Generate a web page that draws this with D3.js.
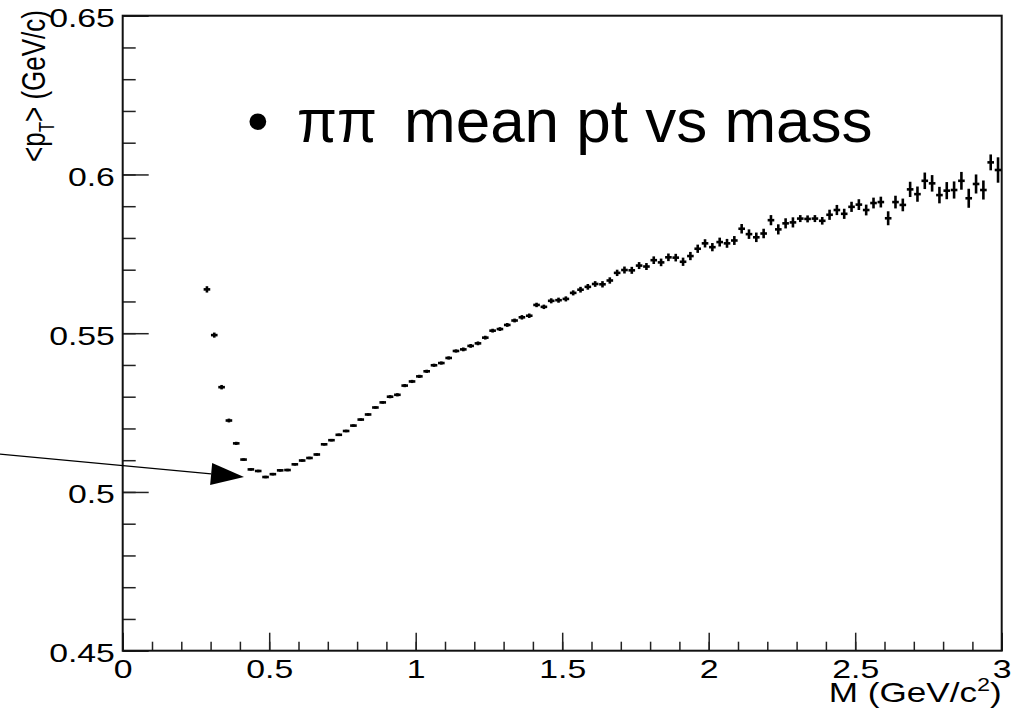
<!DOCTYPE html>
<html>
<head>
<meta charset="utf-8">
<title>pipi mean pt vs mass</title>
<script src="https://cdn.jsdelivr.net/npm/d3@7"></script>
<style>
  body { margin: 0; background: #fff; }
  text { font-family: "Liberation Sans", Arial, sans-serif; fill: #000; }
</style>
</head>
<body>
<div id="chart"></div>
<script>
// bin centres (GeV/c^2), bin width 0.025
var binWidth = 0.025;
var mass = d3.range(109).map(function(i) { return 0.2875 + i * binWidth; });

// mean pT per bin (GeV/c)
var meanPt = [
  0.5638, 0.5494, 0.5330, 0.5225, 0.5153, 0.5102, 0.5071, 0.5066, 0.5047, 0.5056,
  0.5068, 0.5069, 0.5087, 0.5099, 0.5107, 0.5118, 0.5150, 0.5163, 0.5180, 0.5192,
  0.5209, 0.5228, 0.5244, 0.5266, 0.5282, 0.5300, 0.5306, 0.5335, 0.5348, 0.5364,
  0.5380, 0.5399, 0.5406, 0.5422, 0.5444, 0.5449, 0.5460, 0.5468, 0.5486, 0.5508,
  0.5513, 0.5526, 0.5540, 0.5550, 0.5555, 0.5589, 0.5583, 0.5602, 0.5604, 0.5608,
  0.5627, 0.5637, 0.5646, 0.5655, 0.5654, 0.5666, 0.5690, 0.5699, 0.5698, 0.5713,
  0.5710, 0.5730, 0.5723, 0.5739, 0.5738, 0.5725, 0.5743, 0.5766, 0.5783, 0.5771,
  0.5787, 0.5783, 0.5792, 0.5829, 0.5812, 0.5802, 0.5814, 0.5856, 0.5827, 0.5846,
  0.5849, 0.5861, 0.5860, 0.5861, 0.5854, 0.5873, 0.5888, 0.5876, 0.5898, 0.5905,
  0.5888, 0.5910, 0.5913, 0.5862, 0.5913, 0.5904, 0.5953, 0.5938, 0.5980, 0.5972,
  0.5935, 0.5949, 0.5951, 0.5980, 0.5925, 0.5970, 0.5951, 0.6038, 0.6014
];

// statistical error on mean pT
var ptErr = [
  0.0010, 0.0008, 0.0007, 0.0006, 0.0005, 0.0004, 0.0004, 0.0004, 0.0004, 0.0004,
  0.0004, 0.0004, 0.0004, 0.0004, 0.0004, 0.0004, 0.0004, 0.0004, 0.0004, 0.0004,
  0.0004, 0.0004, 0.0004, 0.0004, 0.0004, 0.0005, 0.0005, 0.0005, 0.0005, 0.0005,
  0.0005, 0.0005, 0.0005, 0.0005, 0.0005, 0.0006, 0.0006, 0.0006, 0.0006, 0.0006,
  0.0006, 0.0006, 0.0006, 0.0007, 0.0007, 0.0007, 0.0007, 0.0008, 0.0008, 0.0008,
  0.0008, 0.0009, 0.0009, 0.0009, 0.0010, 0.0010, 0.0010, 0.0011, 0.0011, 0.0011,
  0.0011, 0.0012, 0.0012, 0.0012, 0.0012, 0.0013, 0.0013, 0.0013, 0.0013, 0.0013,
  0.0014, 0.0014, 0.0014, 0.0015, 0.0015, 0.0015, 0.0015, 0.0016, 0.0016, 0.0016,
  0.0016, 0.0011, 0.0011, 0.0011, 0.0012, 0.0016, 0.0016, 0.0016, 0.0016, 0.0017,
  0.0017, 0.0017, 0.0017, 0.0022, 0.0020, 0.0020, 0.0024, 0.0024, 0.0026, 0.0026,
  0.0026, 0.0027, 0.0027, 0.0028, 0.0030, 0.0030, 0.0030, 0.0025, 0.0040
];

var xMajor = [0, 0.5, 1, 1.5, 2, 2.5, 3];
var yMajor = [0.45, 0.5, 0.55, 0.6, 0.65];
var xMinor = d3.range(31).map(function(i) { return i / 10; });
var yMinor = d3.range(21).map(function(i) { return 0.45 + i / 100; });

// arrow annotation, in data units: [start, tip]
var arrowX = [-0.419, 0.414];
var arrowY = [0.5119, 0.5047];

var width = 1014, height = 718;
var padL = 122.7, padR = 1001.7, padT = 15.7, padB = 650.7;
var stretch = 1.3;   // text in the picture is widened

var x = d3.scaleLinear().domain([0, 3]).range([padL, padR]);
var y = d3.scaleLinear().domain([0.45, 0.65]).range([padB, padT]);

var svg = d3.select("#chart").append("svg")
    .attr("width", width)
    .attr("height", height);

// minor ticks
svg.append("g")
    .attr("transform", "translate(0," + padB + ")")
    .call(d3.axisBottom(x).tickValues(xMinor).tickSize(-9).tickFormat(""))
    .call(function(g) { g.select(".domain").remove(); g.selectAll("line").attr("stroke", "#222").attr("stroke-width", 1.5); });

svg.append("g")
    .attr("transform", "translate(" + padL + ",0)")
    .call(d3.axisLeft(y).tickValues(yMinor).tickSize(-13).tickFormat(""))
    .call(function(g) { g.select(".domain").remove(); g.selectAll("line").attr("stroke", "#222").attr("stroke-width", 1.5); });

// major ticks and labels
svg.append("g")
    .attr("transform", "translate(0," + padB + ")")
    .call(d3.axisBottom(x).tickValues(xMajor).tickSize(-18).tickPadding(9)
      .tickFormat(function(d) { return String(d); }))
    .call(function(g) {
      g.select(".domain").remove();
      g.selectAll("line").attr("stroke", "#222").attr("stroke-width", 1.5);
      g.selectAll("text").attr("font-size", 26).attr("fill", "#000")
        .attr("font-family", "Liberation Sans")
        .attr("transform", "scale(" + stretch + ",1)");
    });

svg.append("g")
    .attr("transform", "translate(" + padL + ",0)")
    .call(d3.axisLeft(y).tickValues(yMajor).tickSize(-26)
      .tickFormat(function(d) { return String(+d.toFixed(2)); }))
    .call(function(g) {
      g.select(".domain").remove();
      g.selectAll("line").attr("stroke", "#222").attr("stroke-width", 1.5);
      g.selectAll("text").attr("font-size", 26).attr("fill", "#000")
        .attr("font-family", "Liberation Sans")
        .attr("x", -6).attr("dy", "0.42em")
        .attr("transform", "scale(" + stretch + ",1)");
    });

// frame
svg.append("rect")
    .attr("x", padL).attr("y", padT)
    .attr("width", padR - padL).attr("height", padB - padT)
    .attr("fill", "none").attr("stroke", "#111").attr("stroke-width", 2);

// axis titles
var xt = svg.append("text")
    .attr("transform", "translate(" + padR + ",702) scale(" + stretch + ",1)")
    .attr("text-anchor", "end")
    .attr("font-size", 27);
xt.append("tspan").text("M (GeV/c");
xt.append("tspan").attr("font-size", 18).attr("dy", -11).text("2");
xt.append("tspan").attr("dy", 11).text(")");

var yt = svg.append("text")
    .attr("transform", "translate(45,10) scale(" + stretch + ",1) rotate(-90)")
    .attr("text-anchor", "end")
    .attr("font-size", 26);
yt.append("tspan").text("<p");
yt.append("tspan").attr("font-size", 17).attr("dy", 7).text("T");
yt.append("tspan").attr("dy", -7).text(">");
yt.append("tspan").text(" (GeV/c)");

// data points with error bars
var pts = svg.append("g").attr("stroke", "#000").attr("stroke-width", 2.6);
var half = binWidth / 2 - 0.0012;

pts.selectAll("line.h").data(mass).enter().append("line")
    .attr("class", "h")
    .attr("x1", function(d) { return x(d - half); })
    .attr("x2", function(d) { return x(d + half); })
    .attr("y1", function(d, i) { return y(meanPt[i]); })
    .attr("y2", function(d, i) { return y(meanPt[i]); });

pts.selectAll("line.v").data(mass).enter().append("line")
    .attr("class", "v")
    .attr("x1", function(d) { return x(d); })
    .attr("x2", function(d) { return x(d); })
    .attr("y1", function(d, i) { return y(meanPt[i] - ptErr[i]); })
    .attr("y2", function(d, i) { return y(meanPt[i] + ptErr[i]); });

// arrow
var ax0 = x(arrowX[0]), ay0 = y(arrowY[0]), ax1 = x(arrowX[1]), ay1 = y(arrowY[1]);
var ang = Math.atan2(ay1 - ay0, ax1 - ax0);
var headLen = 33, headHalf = 11;
var bx = ax1 - headLen * Math.cos(ang), by = ay1 - headLen * Math.sin(ang);
svg.append("line")
    .attr("x1", ax0).attr("y1", ay0).attr("x2", bx).attr("y2", by)
    .attr("stroke", "#000").attr("stroke-width", 1.3);
svg.append("path")
    .attr("d", "M" + ax1 + "," + ay1 +
      "L" + (bx + headHalf * Math.sin(ang)) + "," + (by - headHalf * Math.cos(ang)) +
      "L" + (bx - headHalf * Math.sin(ang)) + "," + (by + headHalf * Math.cos(ang)) + "Z")
    .attr("fill", "#000");

// title, as three pieces
svg.append("text").attr("x", 247).attr("y", 142).attr("font-size", 62).text("\u2022");
svg.append("text").attr("x", 297).attr("y", 142).attr("font-size", 62)
    .attr("font-family", "Liberation Serif")
    .attr("textLength", 80).attr("lengthAdjust", "spacingAndGlyphs")
    .text("\u03c0\u03c0");
svg.append("text").attr("x", 404).attr("y", 142).attr("font-size", 62)
    .text("mean pt vs mass");
</script>
</body>
</html>
